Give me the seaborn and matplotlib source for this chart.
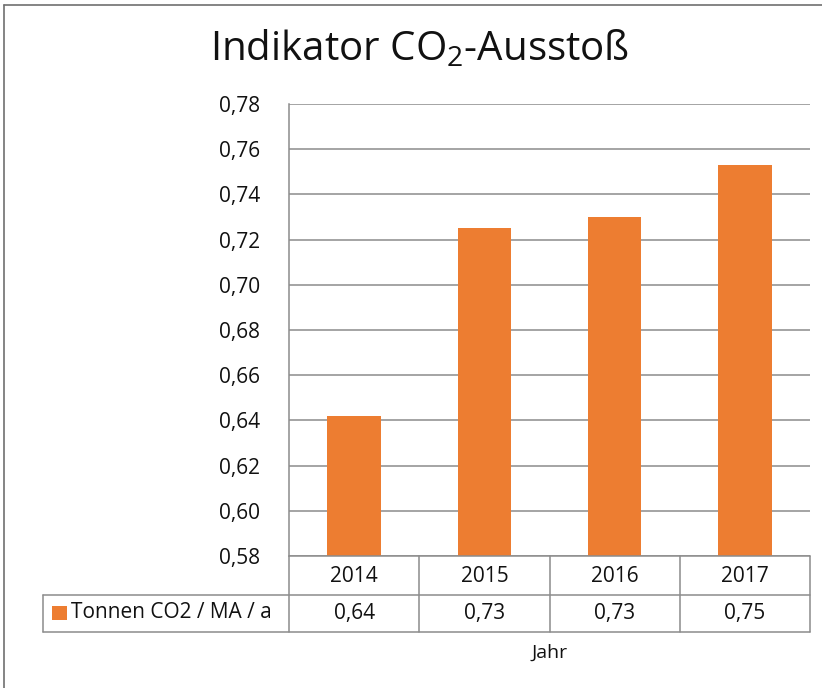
import matplotlib
matplotlib.use("Agg")
import matplotlib.pyplot as plt
import seaborn as sns
import pandas as pd
from matplotlib.transforms import blended_transform_factory
from matplotlib.patches import Rectangle
from matplotlib.lines import Line2D

# ---- data ----
years = ["2014", "2015", "2016", "2017"]
values = [0.642, 0.725, 0.730, 0.753]
table_values = ["0,64", "0,73", "0,73", "0,75"]
yticks = [0.58, 0.60, 0.62, 0.64, 0.66, 0.68, 0.70, 0.72, 0.74, 0.76, 0.78]
ytick_labels = ["0,58", "0,60", "0,62", "0,64", "0,66", "0,68", "0,70", "0,72", "0,74", "0,76", "0,78"]
series_name = "Tonnen CO2 / MA / a"
title = r"Indikator CO$_\mathregular{2}$-Ausstoß"
xlabel = "Jahr"

sns.set_theme(style="white")
FONT = "Open Sans"
plt.rcParams["font.family"] = [FONT, "DejaVu Sans"]
plt.rcParams["mathtext.fontset"] = "custom"
plt.rcParams["mathtext.rm"] = FONT
plt.rcParams["mathtext.it"] = FONT
plt.rcParams["mathtext.bf"] = FONT

W, H = 822, 688
fig = plt.figure(figsize=(W / 100, H / 100), dpi=100)
fig.patch.set_facecolor("white")

def fx(x):
    return x / W

def fy(y):
    return 1 - y / H

GRID = "#8c8c8c"
ORANGE = "#ED7D31"
TXT = "#111111"

ax_l, ax_r, ax_t, ax_b = 289, 810, 104, 556
ax = fig.add_axes([fx(ax_l), fy(ax_b), (ax_r - ax_l) / W, (ax_b - ax_t) / H])
df = pd.DataFrame({"Jahr": years, "Wert": values})
sns.barplot(data=df, x="Jahr", y="Wert", color=ORANGE, saturation=1, width=0.41,
            linewidth=0, ax=ax)
ax.set_xlim(-0.5, 3.5)
ax.set_ylim(0.58, 0.78)
ax.set_yticks(yticks)
ax.set_yticklabels(ytick_labels)
ax.set_xticks([])
ax.set_xlabel("")
ax.set_ylabel("")
ax.yaxis.grid(True, color=GRID, lw=1.1)
ax.set_axisbelow(True)
for s in ["top", "right", "bottom"]:
    ax.spines[s].set_visible(False)
ax.spines["left"].set_color(GRID)
ax.spines["left"].set_linewidth(1.1)
ax.tick_params(axis="y", length=0, pad=21, labelsize=15, labelcolor=TXT)
ax.set_facecolor("white")

# ---- data table ----
ph = ax_b - ax_t
def ay(ypix):
    return -(ypix - ax_b) / ph

bt = blended_transform_factory(ax.transData, ax.transAxes)
for xb in [-0.5, 0.5, 1.5, 2.5, 3.5]:
    ax.plot([xb, xb], [0, ay(632)], color=GRID, lw=1.1, transform=bt, clip_on=False)
for yy in [556, 595, 632]:
    x0 = ax_l if yy == 556 else 43
    fig.add_artist(Line2D([fx(x0), fx(ax_r)], [fy(yy), fy(yy)], color=GRID, lw=1.1))
fig.add_artist(Line2D([fx(43), fx(43)], [fy(595), fy(632)], color=GRID, lw=1.1))

for i, (yr, tv) in enumerate(zip(years, table_values)):
    ax.text(i, ay(576), yr, transform=bt, ha="center", va="center", fontsize=15, color=TXT)
    ax.text(i, ay(613), tv, transform=bt, ha="center", va="center", fontsize=15, color=TXT)

fig.add_artist(Rectangle((fx(52), fy(620)), 15 / W, 14 / H, facecolor=ORANGE, edgecolor="none"))
fig.text(fx(71), fy(613), series_name, ha="left", va="center", fontsize=15, color=TXT)
fig.text(fx((ax_l + ax_r) / 2), fy(653), xlabel, ha="center", va="center", fontsize=14, color=TXT)

# title
fig.text(fx(420), fy(50), title, ha="center", va="center", fontsize=29, color=TXT)

# chart border
fig.add_artist(Line2D([fx(4), fx(4)], [fy(5), fy(688)], color="#707070", lw=1.2))
fig.add_artist(Line2D([fx(4), fx(822)], [fy(5), fy(5)], color="#707070", lw=1.2))

fig.savefig("out.png", dpi=100, facecolor="white")
